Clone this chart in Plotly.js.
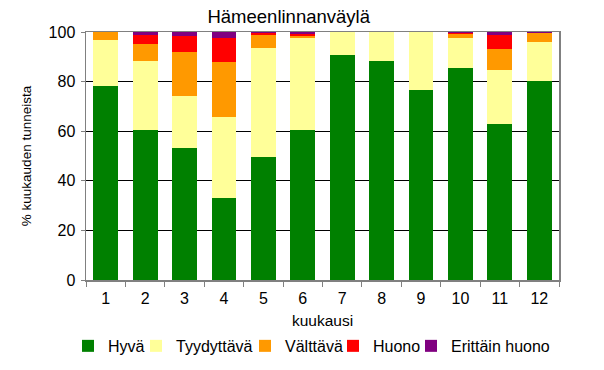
<!DOCTYPE html>
<html><head><meta charset="utf-8">
<script src="https://cdn.plot.ly/plotly-3.0.1.min.js"></script>
<style>body{margin:0;background:#fff}#c{width:604px;height:370px}</style>
</head><body><div id="c"></div>
<script>
const months = ['1','2','3','4','5','6','7','8','9','10','11','12'];
const hyva        = [78.2, 60.5, 53.2, 33.1, 49.6, 60.5, 90.7, 88.3, 76.6, 85.5, 62.9, 80.2];
const tyydyttava  = [18.6, 27.8, 21.0, 32.6, 43.9, 37.1,  9.3, 11.7, 23.4, 12.1, 21.8, 15.8];
const valttava    = [ 3.2,  6.9, 17.7, 22.2,  5.3,  0.8,  0,    0,    0,    1.6,  8.4,  3.6];
const huono       = [ 0,    3.6,  6.6,  9.8,  0.8,  0.8,  0,    0,    0,    0.3,  5.7,  0];
const erittainHuono=[ 0,    1.2,  1.5,  2.3,  0.4,  0.8,  0,    0,    0,    0.5,  1.2,  0.4];
const seriesNames = ['Hyvä','Tyydyttävä','Välttävä','Huono','Erittäin huono'];
const seriesColors = ['#008000','#FFFF99','#FF9900','#FF0000','#800080'];
const seriesData = [hyva, tyydyttava, valttava, huono, erittainHuono];
// legend entry left edges (px in the page), one legend per series
const legendLeft = [68, 136, 245, 333, 411];

const font = {family:'Liberation Sans, Arial, sans-serif', color:'#000'};
const legendKeys = seriesData.map((d,i)=> i===0 ? 'legend' : 'legend'+(i+1));
const traces = seriesData.map((d,i)=>({
  type:'bar', x:months, y:d, name:seriesNames[i], legend:legendKeys[i],
  marker:{color:seriesColors[i], line:{width:0}}
}));
const layout = {
  width:604, height:370, barmode:'stack', bargap:0.37,
  margin:{l:86, r:45, t:32, b:90},
  paper_bgcolor:'#fff', plot_bgcolor:'#fff',
  font:Object.assign({size:16}, font),
  title:{text:'Hämeenlinnanväylä', font:Object.assign({size:18.5}, font), x:0.478, xref:'container', y:0.955, yref:'container', xanchor:'center', yanchor:'middle'},
  xaxis:{type:'category', showline:true, linecolor:'#808080', linewidth:1.5, mirror:true,
    ticks:'outside', tickson:'boundaries', ticklen:5, tickcolor:'#808080', ticklabelstandoff:3,
    tickfont:Object.assign({size:16}, font), showgrid:false,
    title:{text:'kuukausi', font:Object.assign({size:15.5}, font), standoff:12}},
  yaxis:{range:[0,100], dtick:20, showline:true, linecolor:'#808080', linewidth:1.5, mirror:true,
    ticks:'outside', ticklen:4, tickcolor:'#808080', ticklabelstandoff:2,
    showgrid:true, gridcolor:'#000', gridwidth:1, zeroline:false,
    tickfont:Object.assign({size:16}, font),
    title:{text:'% kuukauden tunneista', font:Object.assign({size:13.5}, font), standoff:14}},
  showlegend:true
};
legendKeys.forEach((k,i)=>{
  layout[k] = {orientation:'h', x:legendLeft[i]/604, xref:'container', xanchor:'left',
    y:0.065, yref:'container', yanchor:'middle', bgcolor:'rgba(0,0,0,0)',
    font:Object.assign({size:16}, font), itemwidth:30};
});
Plotly.newPlot('c', traces, layout, {displayModeBar:false, staticPlot:true});
</script></body></html>
